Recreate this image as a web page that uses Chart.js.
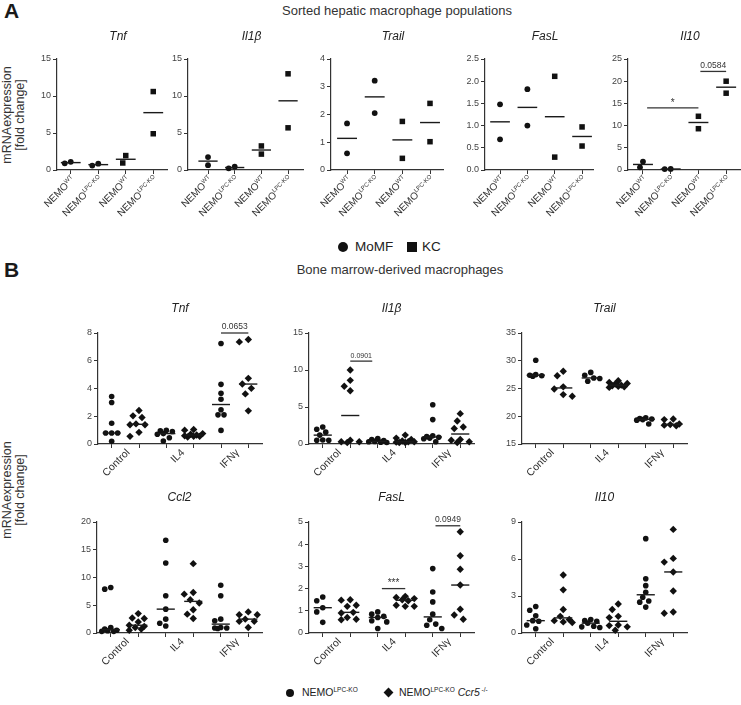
<!DOCTYPE html>
<html><head><meta charset="utf-8">
<script src="https://cdn.jsdelivr.net/npm/chart.js@4"></script>
<style>
body{margin:0;width:741px;height:705px;background:#fff;position:relative;overflow:hidden;font-family:'Liberation Sans',Arial,sans-serif;color:#1a1a1a}
.abs{position:absolute;white-space:nowrap}
canvas{position:absolute}
.ylab{position:absolute;width:130px;text-align:center;font-size:12.5px;line-height:13px;transform:rotate(-90deg);color:#333}
sup{font-size:62%;vertical-align:0;position:relative;top:-0.55em}
</style></head><body>
<div class="abs" style="left:4px;top:-1px;font-weight:bold;font-size:21px">A</div>
<div class="abs" style="left:197px;width:400px;text-align:center;top:3px;font-size:13px;color:#333">Sorted hepatic macrophage populations</div>
<div class="ylab" style="left:-51px;top:102px">mRNAexpression<br>[fold change]</div>
<div class="abs" style="left:338px;top:242px;width:10px;height:10px;border-radius:50%;background:#111"></div>
<div class="abs" style="left:355px;top:239px;font-size:13.5px;color:#222">MoMF</div>
<div class="abs" style="left:407px;top:242px;width:10px;height:10px;background:#111"></div>
<div class="abs" style="left:422px;top:239px;font-size:13.5px;color:#222">KC</div>

<div class="abs" style="left:4px;top:258px;font-weight:bold;font-size:21px">B</div>
<div class="abs" style="left:200px;width:400px;text-align:center;top:262px;font-size:13px;color:#333">Bone marrow-derived macrophages</div>
<div class="ylab" style="left:-51px;top:477px">mRNAexpression<br>[fold change]</div>
<div class="abs" style="left:286px;top:689px;width:8px;height:8px;border-radius:50%;background:#111"></div>
<div class="abs" style="left:302px;top:686px;font-size:10.5px;color:#222">NEMO<sup>LPC-KO</sup></div>
<div class="abs" style="left:385px;top:689px;width:7px;height:7px;background:#111;transform:rotate(45deg)"></div>
<div class="abs" style="left:399px;top:686px;font-size:10.5px;color:#222">NEMO<sup>LPC-KO</sup> <i>Ccr5</i><sup> -/-</sup></div>

<script>
// ---------------- DATA ----------------
// Panel A groups: NEMO^WT MoMF, NEMO^LPC-KO MoMF, NEMO^WT KC, NEMO^LPC-KO KC
const groupLabelsA = ['WT', 'LPC-KO', 'WT', 'LPC-KO'];
const cellTypesA = ['MoMF', 'MoMF', 'KC', 'KC'];
const A_Tnf   = [[0.9, 1.1], [0.6, 0.85], [1.95, 0.95], [10.6, 4.9]];
const A_Il1b  = [[1.75, 0.65], [0.22, 0.45], [3.25, 2.15], [13.0, 5.7]];
const A_Trail = [[1.68, 0.6], [3.22, 2.05], [1.75, 0.42], [2.4, 1.02]];
const A_FasL  = [[1.48, 0.69], [1.82, 1.0], [2.11, 0.29], [0.97, 0.54]];
const A_Il10  = [[0.6, 1.9], [0.2, 0.25], [12.1, 9.3], [20.0, 17.3]];

// Panel B groups: Control (LPC-KO, LPC-KO Ccr5-/-), IL4 (..), IFNγ (..)
const treatmentsB = ['Control', 'IL4', 'IFNγ'];
const genotypesB = ['NEMO LPC-KO', 'NEMO LPC-KO Ccr5-/-'];
const B_Tnf = [
  [3.42, 2.99, 1.5, 0.79, 0.79, 0.79, 0.19],
  [2.41, 2.03, 1.91, 1.45, 1.39, 1.39, 0.84, 0.55],
  [0.98, 0.95, 0.9, 0.75, 0.7, 0.45, 0.22],
  [1.05, 1.0, 0.75, 0.7, 0.65, 0.6, 0.55, 0.55, 0.5],
  [7.24, 4.3, 3.66, 3.23, 2.46, 2.1, 2.1, 0.98],
  [7.53, 7.36, 4.73, 4.32, 4.01, 3.61, 2.39]];
const B_Il1b = [
  [2.3, 2.0, 1.6, 1.2, 0.55, 0.5, 0.5],
  [10.0, 8.6, 7.8, 7.2, 0.5, 0.3, 0.3, 0.2],
  [0.75, 0.6, 0.45, 0.35, 0.3, 0.25, 0.2],
  [1.2, 0.8, 0.6, 0.4, 0.3, 0.3, 0.25, 0.2, 0.2],
  [5.3, 3.3, 1.1, 1.0, 0.9, 0.8, 0.7, 0.3],
  [4.1, 3.1, 2.3, 2.1, 0.6, 0.5, 0.3, 0.2]];
const B_Trail = [
  [30.1, 27.5, 27.4, 27.3, 27.2],
  [28.1, 27.3, 25.3, 24.9, 23.9, 23.6],
  [27.9, 27.4, 26.9, 26.8, 26.3],
  [26.4, 26.1, 25.9, 25.8, 25.6, 25.5, 25.4, 25.3, 25.2],
  [19.7, 19.6, 19.5, 19.4, 19.3, 18.6],
  [19.5, 19.4, 18.6, 18.5, 18.4, 18.3]];
const B_Ccl2 = [
  [8.2, 7.9, 1.0, 0.7, 0.5, 0.4, 0.3, 0.3],
  [3.5, 2.7, 2.6, 2.0, 1.4, 1.2, 1.0, 0.7, 0.5],
  [16.7, 12.6, 6.7, 4.3, 2.5, 1.75, 1.27],
  [12.5, 7.3, 7.0, 6.0, 5.4, 4.2, 3.4, 2.6],
  [8.6, 6.7, 2.5, 2.2, 1.0, 0.9, 0.9, 0.8],
  [3.8, 3.3, 3.3, 2.5, 2.1, 2.1, 1.0]];
const B_FasL = [
  [1.62, 1.45, 1.14, 0.95, 0.48],
  [1.5, 1.48, 1.25, 1.2, 0.93, 0.9, 0.7, 0.62, 0.6],
  [0.95, 0.85, 0.75, 0.7, 0.55, 0.5, 0.2],
  [1.65, 1.6, 1.55, 1.5, 1.45, 1.25, 1.2, 1.2],
  [2.9, 1.85, 1.4, 0.85, 0.6, 0.4, 0.35, 0.2],
  [4.56, 3.48, 2.87, 2.16, 1.07, 0.81, 0.62]];
const B_Il10 = [
  [2.15, 1.85, 1.4, 1.0, 0.95, 0.65, 0.35],
  [4.7, 3.5, 1.9, 1.35, 1.1, 1.0, 0.9, 0.85],
  [1.1, 1.0, 0.95, 0.8, 0.55, 0.5, 0.45],
  [2.35, 1.9, 1.35, 1.25, 0.65, 0.6, 0.5, 0.22],
  [7.65, 4.4, 3.84, 3.3, 2.9, 2.6, 2.5, 2.1],
  [8.4, 6.05, 5.75, 4.95, 3.4, 1.7, 1.6]];

// significance annotations: [from group, to group, value level, text]
const sig_A_Il10 = [[1.15, 3, 14.0, '*'], [3.07, 4, 22.2, '0.0584']];
const sig_B_Tnf  = [[5, 6, 8.0, '0.0653']];
const sig_B_Il1b = [[2, 2.8, 11.2, '0.0901']];
const sig_B_FasL = [[3.15, 4, 2.0, '***'], [5.1, 6, 4.83, '0.0949']];

// ---------------- RENDERING ----------------
const FONT = "'Liberation Sans', Arial, sans-serif";
Chart.defaults.font.family = FONT;
Chart.defaults.color = '#444';

function median(a) { const s = [...a].sort((x, y) => x - y); const n = s.length; return n % 2 ? s[(n - 1) / 2] : (s[n / 2 - 1] + s[n / 2]) / 2; }

// compact beeswarm spread (pixel-based) to limit marker overlap
function swarm(vals, pxX, pxY, d) {
  const step = 3, maxK = 6;
  const idx = vals.map((v, i) => i).sort((a, b) => vals[b] - vals[a]);
  const placed = []; const off = [];
  for (const i of idx) {
    const y = vals[i] * pxY;
    let best = 0, bestD = -1;
    for (let k = 0; k <= maxK; k++) {
      const c = k === 0 ? 0 : (k % 2 ? -1 : 1) * Math.ceil(k / 2) * step;
      let md = Infinity;
      for (const p of placed) md = Math.min(md, Math.hypot(p[0] - c, p[1] - y));
      if (md >= d) { best = c; break; }
      if (md > bestD) { bestD = md; best = c; }
    }
    placed.push([best, y]); off[i] = best / pxX;
  }
  return off;
}

function drawLabel(ctx, main, sup, size) {
  const mf = `${size}px ${FONT}`, sf = `${Math.round(size * 0.6)}px ${FONT}`;
  ctx.font = mf; const w1 = ctx.measureText(main).width;
  ctx.font = sf; const w2 = sup ? ctx.measureText(sup).width : 0;
  ctx.textAlign = 'left'; ctx.textBaseline = 'middle';
  ctx.font = mf; ctx.fillText(main, -(w1 + w2), 0);
  if (sup) { ctx.font = sf; ctx.fillText(sup, -w2, -size * 0.3); }
}

function makeChart(spec) {
  const yW = 30, padR = 10;
  const plotW = spec.endX - spec.axisX, plotH = spec.bottom - spec.top;
  const W = yW + plotW + padR, H = spec.padTop + plotH + spec.xAxisH;
  const cv = document.createElement('canvas');
  cv.width = W; cv.height = H;
  cv.style.left = (spec.axisX - yW) + 'px'; cv.style.top = (spec.top - spec.padTop) + 'px';
  cv.style.width = W + 'px'; cv.style.height = H + 'px';
  document.body.appendChild(cv);
  const pxX = plotW / (spec.xmax - spec.xmin), pxY = plotH / (spec.ymax - spec.ymin);
  const datasets = [];
  spec.data.forEach((vals, g) => {
    const xg = spec.positions[g];
    const m = median(vals);
    datasets.push({ data: [{ x: xg - spec.medHalf, y: m }, { x: xg + spec.medHalf, y: m }], showLine: true,
      borderColor: '#1a1a1a', borderWidth: 1.4, pointRadius: 0, clip: false });
  });
  spec.data.forEach((vals, g) => {
    const off = swarm(vals, pxX, pxY, spec.radii[g] * 2.0);
    const xg = spec.positions[g];
    datasets.push({ data: vals.map((v, i) => ({ x: xg + off[i], y: v })), pointStyle: spec.shapes[g],
      pointRadius: spec.radii[g], backgroundColor: '#111', borderColor: '#111', borderWidth: 0, clip: false });
  });
  (spec.sigs || []).forEach(s => {
    datasets.push({ data: [{ x: s[0], y: s[2] }, { x: s[1], y: s[2] }], showLine: true,
      borderColor: '#333', borderWidth: 1.3, pointRadius: 0, clip: false });
  });
  const axisGrid = { display: true, drawOnChartArea: false, drawTicks: true, tickLength: 4, color: '#333', lineWidth: 1 };
  const axisBorder = { display: true, color: '#333', width: 1.2 };
  new Chart(cv, {
    type: 'scatter',
    data: { datasets },
    options: {
      responsive: false, animation: false, devicePixelRatio: 1, events: [],
      layout: { padding: { top: spec.padTop, right: padR, left: 0, bottom: 0 }, autoPadding: false },
      plugins: { legend: { display: false }, tooltip: { enabled: false } },
      scales: {
        x: { type: 'linear', min: spec.xmin, max: spec.xmax,
          afterBuildTicks: s => { s.ticks = spec.positions.map(v => ({ value: v })); },
          afterFit: s => { s.height = spec.xAxisH; },
          ticks: { display: false }, grid: axisGrid, border: axisBorder },
        y: { type: 'linear', min: spec.ymin, max: spec.ymax,
          afterFit: s => { s.width = yW; },
          ticks: { stepSize: spec.step, font: { size: 9 }, color: '#444', padding: 2,
            callback: v => spec.decimals ? v.toFixed(spec.decimals) : String(v) },
          grid: axisGrid, border: axisBorder }
      }
    },
    plugins: [{
      id: 'deco',
      afterDraw(chart) {
        const ctx = chart.ctx, xs = chart.scales.x, ys = chart.scales.y, ca = chart.chartArea;
        ctx.save();
        ctx.fillStyle = '#222';
        ctx.font = `italic 12px ${FONT}`; ctx.textAlign = 'center'; ctx.textBaseline = 'middle';
        ctx.fillText(spec.title, (ca.left + ca.right) / 2 + spec.titleDx, ca.top - spec.titleGap);
        ctx.fillStyle = '#333';
        spec.xLabels.forEach(l => {
          ctx.save();
          ctx.translate(xs.getPixelForValue(l.x) + 3, ca.bottom + spec.labelGap);
          ctx.rotate(-Math.PI / 4);
          drawLabel(ctx, l.main, l.sup, spec.labelSize);
          ctx.restore();
        });
        (spec.sigs || []).forEach(s => {
          ctx.font = `${s[3].startsWith('0') ? spec.sigSize : 10}px ${FONT}`;
          ctx.textAlign = 'center'; ctx.textBaseline = 'bottom';
          ctx.fillText(s[3], xs.getPixelForValue((s[0] + s[1]) / 2), ys.getPixelForValue(s[2]) - (s[3].startsWith('*') ? 0 : 2));
        });
        ctx.restore();
      }
    }]
  });
}

// Panel A
const posA = [1, 2, 3, 4];
const shapesA = cellTypesA.map(c => c === 'MoMF' ? 'circle' : 'rect');
const radiiA = cellTypesA.map(c => c === 'MoMF' ? 2.9 : 3.9);
const labelsA = groupLabelsA.map((g, i) => ({ x: posA[i], main: 'NEMO', sup: g }));
const baseA = { top: 59, bottom: 170, padTop: 34, xAxisH: 72, positions: posA, shapes: shapesA, radii: radiiA,
  xLabels: labelsA, labelSize: 10, labelGap: 8, medHalf: 0.36, titleDx: 6, titleGap: 22, sigSize: 8.5, ymin: 0 };
makeChart({ ...baseA, title: 'Tnf', data: A_Tnf, axisX: 57, endX: 167, xmin: 0.5, xmax: 4.5, ymax: 15, step: 5 });
makeChart({ ...baseA, title: 'Il1β', data: A_Il1b, axisX: 188, endX: 303, xmin: 0.25, xmax: 4.56, ymax: 15, step: 5 });
makeChart({ ...baseA, title: 'Trail', data: A_Trail, axisX: 331, endX: 443, xmin: 0.42, xmax: 4.47, ymax: 4, step: 1 });
makeChart({ ...baseA, title: 'FasL', data: A_FasL, axisX: 485, endX: 593, xmin: 0.45, xmax: 4.4, ymax: 2.5, step: 0.5, decimals: 1 });
makeChart({ ...baseA, title: 'Il10', data: A_Il10, axisX: 628, endX: 740, xmin: 0.46, xmax: 4.5, ymax: 25, step: 5, sigs: sig_A_Il10 });

// Panel B
const posB = [1, 2, 3, 4, 5, 6];
const shapesB = posB.map((p, i) => i % 2 ? 'rectRot' : 'circle');
const radiiB = posB.map((p, i) => i % 2 ? 3.7 : 2.8);
const labelsB = treatmentsB.map((t, i) => ({ x: posB[2 * i] + 0.5, main: t, sup: '' }));
const baseB = { padTop: 34, xAxisH: 50, positions: posB, shapes: shapesB, radii: radiiB, xLabels: labelsB,
  labelSize: 10.5, labelGap: 7, medHalf: 0.33, titleDx: 0, titleGap: 24, sigSize: 8.5, xmin: 0.5, xmax: 6.5 };
makeChart({ ...baseB, title: 'Tnf', data: B_Tnf, top: 333, bottom: 444, axisX: 98, endX: 262, ymin: 0, ymax: 8, step: 2, sigs: sig_B_Tnf });
makeChart({ ...baseB, title: 'Il1β', data: B_Il1b, top: 333, bottom: 444, axisX: 309, endX: 474, ymin: 0, ymax: 15, step: 5, sigs: sig_B_Il1b, sigSize: 7 });
makeChart({ ...baseB, title: 'Trail', data: B_Trail, top: 333, bottom: 444, axisX: 522, endX: 687, ymin: 15, ymax: 35, step: 5 });
makeChart({ ...baseB, title: 'Ccl2', data: B_Ccl2, top: 522, bottom: 633, axisX: 97, endX: 262, ymin: 0, ymax: 20, step: 5 });
makeChart({ ...baseB, title: 'FasL', data: B_FasL, top: 522, bottom: 633, axisX: 309, endX: 474, ymin: 0, ymax: 5, step: 1, sigs: sig_B_FasL });
makeChart({ ...baseB, title: 'Il10', data: B_Il10, top: 522, bottom: 633, axisX: 522, endX: 687, ymin: 0, ymax: 9, step: 3 });
</script>
</body></html>
